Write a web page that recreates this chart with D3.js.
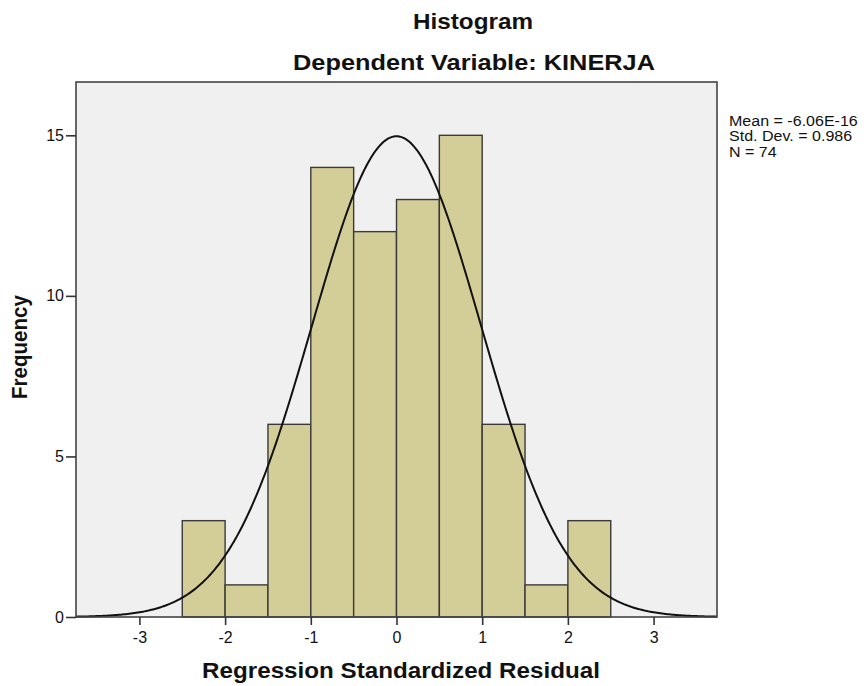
<!DOCTYPE html>
<html><head><meta charset="utf-8">
<script src="https://cdn.jsdelivr.net/npm/d3@7"></script>
<style>body{margin:0;background:#fff;} svg{display:block;font-family:"Liberation Sans",Arial,sans-serif;}</style>
</head><body>
<svg id="c" width="867" height="686"></svg>
<script>
const binStarts = [-2.5,-2.0,-1.5,-1.0,-0.5,0.0,0.5,1.0,1.5,2.0];
const counts = [3,1,6,14,12,13,15,6,1,3];
const binWidth = 0.5;
const xTicks = [-3,-2,-1,0,1,2,3];
const yTicks = [0,5,10,15];
const stats = {mean:-6.06e-16, sd:0.986, n:74};
const legendLines = ["Mean = -6.06E-16","Std. Dev. = 0.986","N = 74"];

const svg = d3.select("#c");
const L=76, R=717, T=82, B=617;
const x = d3.scaleLinear().domain([-3.74,3.74]).range([L,R]);
const y = d3.scaleLinear().domain([0,16.66]).range([B,T]);

svg.append("rect").attr("x",L).attr("y",T).attr("width",R-L).attr("height",B-T)
  .attr("fill","#f0f0f0");

svg.selectAll("rect.bar").data(binStarts).enter().append("rect").attr("class","bar")
  .attr("x",d=>x(d)).attr("width",d=>x(d+binWidth)-x(d))
  .attr("y",(d,i)=>y(counts[i])).attr("height",(d,i)=>y(0)-y(counts[i]))
  .attr("fill","#d3ce97").attr("stroke","#3a3a3a").attr("stroke-width",1.4);

// normal curve from reported stats
const pts = d3.range(-3.74,3.7401,0.02).map(v=>[v, stats.n*binWidth/(stats.sd*Math.sqrt(2*Math.PI))*Math.exp(-0.5*Math.pow((v-stats.mean)/stats.sd,2))]);
svg.append("path").datum(pts)
  .attr("d",d3.line().x(d=>x(d[0])).y(d=>y(d[1])))
  .attr("fill","none").attr("stroke","#111").attr("stroke-width",2);

svg.append("rect").attr("x",L).attr("y",T).attr("width",R-L).attr("height",B-T)
  .attr("fill","none").attr("stroke","#444").attr("stroke-width",1.6);

const fmt = d => String(d);
const xa = svg.append("g").attr("transform",`translate(0,${B})`)
  .call(d3.axisBottom(x).tickValues(xTicks).tickSize(8).tickPadding(7).tickFormat(fmt));
xa.select(".domain").remove();
xa.selectAll("line").attr("stroke","#333").attr("stroke-width",1.6);
xa.selectAll("text").attr("font-size",16).attr("fill","#111").attr("font-family","Liberation Sans, Arial, sans-serif");

const ya = svg.append("g").attr("transform",`translate(${L},0)`)
  .call(d3.axisLeft(y).tickValues(yTicks).tickSize(10).tickPadding(2).tickFormat(fmt));
ya.select(".domain").remove();
ya.selectAll("line").attr("stroke","#333").attr("stroke-width",1.6);
ya.selectAll("text").attr("font-size",16).attr("fill","#111").attr("font-family","Liberation Sans, Arial, sans-serif");

function bold(txt, cx, cy, len, rot){
  const g = svg.append("g");
  const t = g.append("text").attr("x",0).attr("y",0).attr("text-anchor","middle")
    .attr("font-size",21.5).attr("font-weight","bold").attr("fill","#111").text(txt);
  const nat = t.node().getComputedTextLength();
  const s = len/nat;
  g.attr("transform",`translate(${cx},${cy})` + (rot?` rotate(${rot})`:"") + ` scale(${s},1)`);
}
bold("Histogram",473,28.5,120);
bold("Dependent Variable: KINERJA",474,70,362);
bold("Regression Standardized Residual",401,678,398);
bold("Frequency",27,347,104,-90);

const lg = svg.append("g").attr("transform","translate(729,0) scale(1.07,1)");
lg.selectAll("text").data(legendLines).enter().append("text")
  .attr("x",0).attr("y",(d,i)=>126+i*15.4).attr("font-size",15).attr("fill","#111").text(d=>d);
</script>
</body></html>
